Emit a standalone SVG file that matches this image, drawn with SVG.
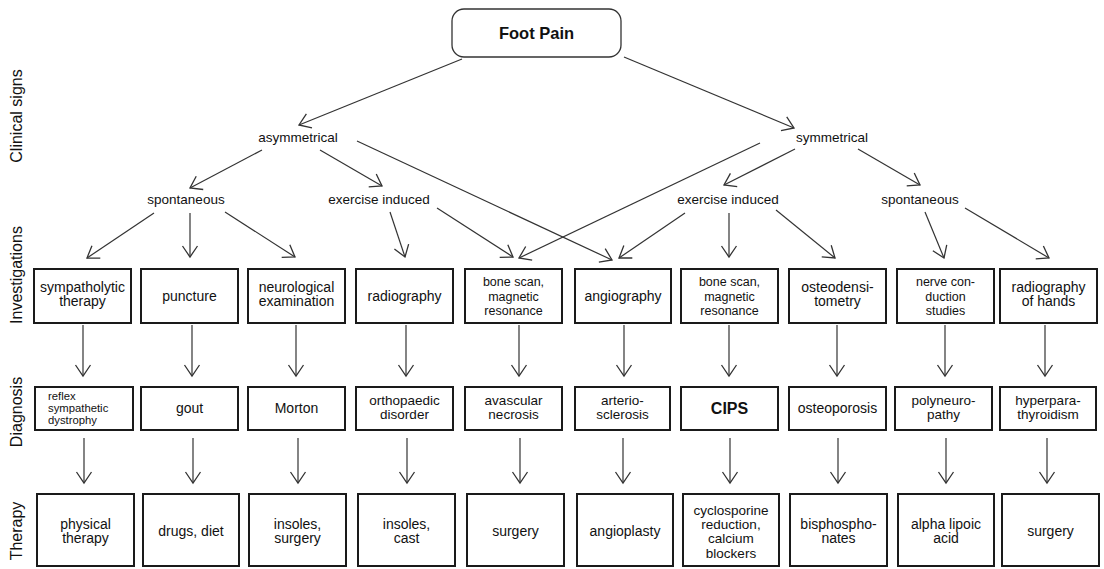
<svg xmlns="http://www.w3.org/2000/svg" width="1104" height="569" viewBox="0 0 1104 569">
<style>
.box{fill:#fff;stroke:#1a1a1a;stroke-width:2}
.root{fill:#fff;stroke:#333;stroke-width:1.3}
.t{font-family:"Liberation Sans",Arial,sans-serif;font-size:14px;fill:#111;text-anchor:middle}
.d{font-size:13.5px}
.s{font-size:12.5px}
.xs{font-size:11.3px;text-anchor:start}
.m{font-family:"Liberation Sans",Arial,sans-serif;font-size:13.5px;fill:#111;text-anchor:middle}
.side{font-family:"Liberation Sans",Arial,sans-serif;font-size:16px;fill:#111;text-anchor:middle}
.c line{stroke:#333;stroke-width:1.2;marker-end:url(#ah)}
</style>
<defs>
<marker id="ah" markerUnits="userSpaceOnUse" markerWidth="20" markerHeight="20" refX="12" refY="8" orient="auto" viewBox="0 0 20 16">
<path d="M1,0.5 L12,8 L1,15.5" fill="none" stroke="#333" stroke-width="1.3"/>
</marker>
</defs>
<rect width="1104" height="569" fill="#fff"/>

<g id="side-labels">
<text class="side" transform="translate(22,116) rotate(-90)">Clinical signs</text>
<text class="side" transform="translate(22,275) rotate(-90)">Investigations</text>
<text class="side" transform="translate(22,412) rotate(-90)">Diagnosis</text>
<text class="side" transform="translate(22,531) rotate(-90)">Therapy</text>
</g>

<g id="foot-pain">
<rect class="root" x="452" y="9" width="169" height="48" rx="12"/>
<text class="t" x="536.5" y="39" style="font-weight:bold;font-size:16.5px">Foot Pain</text>
</g>
<g id="asymmetrical"><text class="m" x="298" y="142">asymmetrical</text></g>
<g id="symmetrical"><text class="m" x="832" y="142">symmetrical</text></g>
<g id="spontaneous-l"><text class="m" x="186" y="204">spontaneous</text></g>
<g id="exercise-l"><text class="m" x="379" y="204">exercise induced</text></g>
<g id="exercise-r"><text class="m" x="728" y="204">exercise induced</text></g>
<g id="spontaneous-r"><text class="m" x="920" y="204">spontaneous</text></g>

<g id="inv1"><rect class="box" x="34" y="269" width="97" height="54"/><text class="t" x="82.5" y="291.5">sympatholytic</text><text class="t" x="82.5" y="306">therapy</text></g>
<g id="inv2"><rect class="box" x="141" y="269" width="97" height="54"/><text class="t" x="189.5" y="301">puncture</text></g>
<g id="inv3"><rect class="box" x="248" y="269" width="97" height="54"/><text class="t" x="296.5" y="291.5">neurological</text><text class="t" x="296.5" y="306">examination</text></g>
<g id="inv4"><rect class="box" x="356" y="269" width="97" height="54"/><text class="t" x="404.5" y="301">radiography</text></g>
<g id="inv5"><rect class="box" x="465" y="269" width="97" height="54"/><text class="t s" x="513.5" y="286">bone scan,</text><text class="t s" x="513.5" y="300.5">magnetic</text><text class="t s" x="513.5" y="315">resonance</text></g>
<g id="inv6"><rect class="box" x="575" y="269" width="96" height="54"/><text class="t" x="623" y="301">angiography</text></g>
<g id="inv7"><rect class="box" x="681" y="269" width="97" height="54"/><text class="t s" x="729.5" y="286">bone scan,</text><text class="t s" x="729.5" y="300.5">magnetic</text><text class="t s" x="729.5" y="315">resonance</text></g>
<g id="inv8"><rect class="box" x="789" y="269" width="97" height="54"/><text class="t" x="837.5" y="291.5">osteodensi-</text><text class="t" x="837.5" y="306">tometry</text></g>
<g id="inv9"><rect class="box" x="897" y="269" width="97" height="54"/><text class="t s" x="945.5" y="286">nerve con-</text><text class="t s" x="945.5" y="300.5">duction</text><text class="t s" x="945.5" y="315">studies</text></g>
<g id="inv10"><rect class="box" x="1000" y="269" width="97" height="54"/><text class="t" x="1048.5" y="291.5">radiography</text><text class="t" x="1048.5" y="306">of hands</text></g>

<g id="dx1"><rect class="box" x="35" y="387" width="98" height="43"/><text class="t xs" x="48" y="400">reflex</text><text class="t xs" x="48" y="412">sympathetic</text><text class="t xs" x="48" y="424">dystrophy</text></g>
<g id="dx2"><rect class="box" x="141" y="387" width="97" height="43"/><text class="t" x="189.5" y="413">gout</text></g>
<g id="dx3"><rect class="box" x="248" y="387" width="97" height="43"/><text class="t" x="296.5" y="413">Morton</text></g>
<g id="dx4"><rect class="box" x="356" y="387" width="97" height="43"/><text class="t d" x="404.5" y="404.5">orthopaedic</text><text class="t d" x="404.5" y="419">disorder</text></g>
<g id="dx5"><rect class="box" x="465" y="387" width="97" height="43"/><text class="t d" x="513.5" y="404.5">avascular</text><text class="t d" x="513.5" y="419">necrosis</text></g>
<g id="dx6"><rect class="box" x="575" y="387" width="95" height="43"/><text class="t d" x="622.5" y="404.5">arterio-</text><text class="t d" x="622.5" y="419">sclerosis</text></g>
<g id="dx7"><rect class="box" x="681" y="387" width="97" height="43"/><text class="t" x="729.5" y="414" style="font-weight:bold;font-size:16px">CIPS</text></g>
<g id="dx8"><rect class="box" x="789" y="387" width="97" height="43"/><text class="t" x="837.5" y="413">osteoporosis</text></g>
<g id="dx9"><rect class="box" x="895" y="387" width="97" height="43"/><text class="t d" x="943.5" y="404.5">polyneuro-</text><text class="t d" x="943.5" y="419">pathy</text></g>
<g id="dx10"><rect class="box" x="1000" y="387" width="96" height="43"/><text class="t d" x="1048" y="404.5">hyperpara-</text><text class="t d" x="1048" y="419">thyroidism</text></g>

<g id="tx1"><rect class="box" x="37" y="494" width="97" height="72"/><text class="t" x="85.5" y="529">physical</text><text class="t" x="85.5" y="543">therapy</text></g>
<g id="tx2"><rect class="box" x="143" y="494" width="96" height="72"/><text class="t" x="191" y="536">drugs, diet</text></g>
<g id="tx3"><rect class="box" x="249" y="494" width="97" height="72"/><text class="t" x="297.5" y="529">insoles,</text><text class="t" x="297.5" y="543">surgery</text></g>
<g id="tx4"><rect class="box" x="358" y="494" width="97" height="72"/><text class="t" x="406.5" y="529">insoles,</text><text class="t" x="406.5" y="543">cast</text></g>
<g id="tx5"><rect class="box" x="467" y="494" width="97" height="72"/><text class="t" x="515.5" y="536">surgery</text></g>
<g id="tx6"><rect class="box" x="577" y="494" width="96" height="72"/><text class="t" x="625" y="536">angioplasty</text></g>
<g id="tx7"><rect class="box" x="683" y="494" width="96" height="72"/><text class="t d" x="731" y="514.5">cyclosporine</text><text class="t d" x="731" y="529">reduction,</text><text class="t d" x="731" y="543">calcium</text><text class="t d" x="731" y="557.5">blockers</text></g>
<g id="tx8"><rect class="box" x="790" y="494" width="97" height="72"/><text class="t" x="838.5" y="529">bisphospho-</text><text class="t" x="838.5" y="543">nates</text></g>
<g id="tx9"><rect class="box" x="898" y="494" width="96" height="72"/><text class="t" x="946" y="529">alpha lipoic</text><text class="t" x="946" y="543">acid</text></g>
<g id="tx10"><rect class="box" x="1002" y="494" width="97" height="72"/><text class="t" x="1050.5" y="536">surgery</text></g>

<g id="connectors" class="c">
<line x1="462" y1="59" x2="299" y2="125"/>
<line x1="624" y1="57" x2="794" y2="128"/>
<line x1="262" y1="150" x2="190" y2="188"/>
<line x1="320" y1="150" x2="382" y2="186"/>
<line x1="357" y1="141" x2="612" y2="260"/>
<line x1="760" y1="143" x2="519" y2="258"/>
<line x1="795" y1="149" x2="724" y2="185"/>
<line x1="858" y1="149" x2="920" y2="185"/>
<line x1="154" y1="213" x2="87" y2="258"/>
<line x1="190" y1="213" x2="190" y2="257"/>
<line x1="225" y1="212" x2="295" y2="257"/>
<line x1="390" y1="212" x2="405" y2="257"/>
<line x1="437" y1="208" x2="513" y2="257"/>
<line x1="685" y1="213" x2="619" y2="258"/>
<line x1="729" y1="213" x2="729" y2="257"/>
<line x1="776" y1="210" x2="835" y2="258"/>
<line x1="925" y1="212" x2="944" y2="258"/>
<line x1="965" y1="208" x2="1049" y2="258"/>
<line x1="83" y1="325" x2="83" y2="376"/>
<line x1="192" y1="325" x2="192" y2="376"/>
<line x1="296" y1="325" x2="296" y2="376"/>
<line x1="406" y1="325" x2="406" y2="376"/>
<line x1="519" y1="325" x2="519" y2="376"/>
<line x1="624" y1="325" x2="624" y2="376"/>
<line x1="729" y1="325" x2="729" y2="376"/>
<line x1="837" y1="325" x2="837" y2="376"/>
<line x1="945" y1="325" x2="945" y2="376"/>
<line x1="1045" y1="325" x2="1045" y2="376"/>
<line x1="84" y1="438" x2="84" y2="483"/>
<line x1="193" y1="438" x2="193" y2="483"/>
<line x1="298" y1="438" x2="298" y2="483"/>
<line x1="407" y1="438" x2="407" y2="483"/>
<line x1="520" y1="438" x2="520" y2="483"/>
<line x1="623" y1="438" x2="623" y2="483"/>
<line x1="730" y1="438" x2="730" y2="483"/>
<line x1="838" y1="438" x2="838" y2="483"/>
<line x1="946" y1="438" x2="946" y2="483"/>
<line x1="1047" y1="438" x2="1047" y2="483"/>
</g>
</svg>
